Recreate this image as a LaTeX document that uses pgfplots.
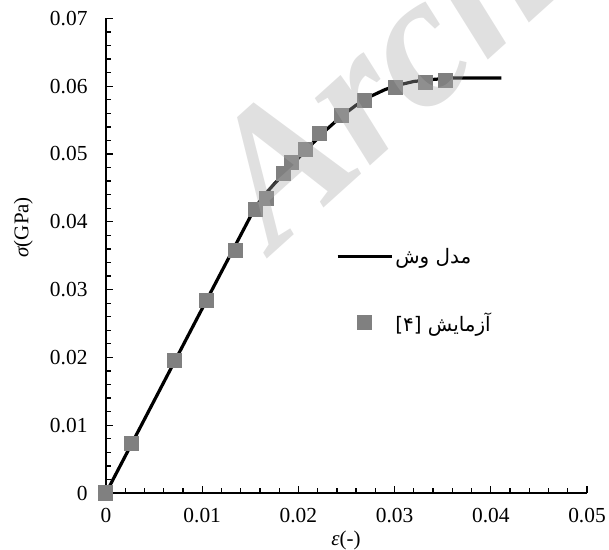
\documentclass[border=0pt]{standalone}
\usepackage{fontspec}
\setmainfont{Liberation Serif}
\newfontfamily\arabicfont[Script=Arabic]{DejaVu Sans}
\TeXXeTstate=1
\usepackage{pgfplots}
\usepackage{pgfplotstable}
\pgfplotsset{compat=1.18}

\definecolor{markgray}{HTML}{808080}

\pgfplotsset{
  line legend wide/.style={legend image code/.code={%
    \draw[black, line width=3.2bp] (0bp,0bp) -- (54bp,0bp);}},
  mark legend centred/.style={legend image code/.code={%
    \draw[mark repeat=1, mark phase=1, ##1] plot coordinates {(27bp,0bp)};}},
}

% Wash model curve
\pgfplotstableread{
x       y
0       0
0.0050  0.0136
0.0100  0.0272
0.0155  0.0421
0.0165  0.0440
0.0175  0.0456
0.0185  0.0471
0.0200  0.0494
0.0215  0.0516
0.0230  0.0537
0.0245  0.0556
0.0260  0.0572
0.0275  0.0585
0.0290  0.0595
0.0305  0.0602
0.0320  0.0607
0.0340  0.0610
0.0360  0.0612
0.0385  0.0612
0.0411  0.0612
}\modeldata

% Experimental points [4]
\pgfplotstableread{
x        y
0        0
0.00267  0.00737
0.00707  0.01951
0.01040  0.02832
0.01341  0.03584
0.01549  0.04184
0.01670  0.04346
0.01843  0.04705
0.01930  0.04877
0.02069  0.05069
0.02218  0.05305
0.02443  0.05575
0.02685  0.05796
0.03011  0.05978
0.03316  0.06052
0.03531  0.06081
}\testdata

\begin{document}
\begin{tikzpicture}
\begin{axis}[
  at={(0,0)}, anchor=south west,
  scale only axis, width=481bp, height=474.6bp,
  xmin=0, xmax=0.05, ymin=0, ymax=0.07,
  scaled ticks=false,
  axis x line=bottom, axis y line=left,
  axis line style={line width=1.6bp, -},
  xtick={0,0.01,0.02,0.03,0.04,0.05},
  xticklabels={0,0.01,0.02,0.03,0.04,0.05},
  ytick={0,0.01,0.02,0.03,0.04,0.05,0.06,0.07},
  yticklabels={0,0.01,0.02,0.03,0.04,0.05,0.06,0.07},
  minor x tick num=4, minor y tick num=4,
  tick align=inside,
  major tick length=7bp, minor tick length=5bp,
  every tick/.style={line width=1.3bp, black},
  tick label style={font=\fontsize{21.5}{21.5}\selectfont},
  xticklabel style={yshift=-12bp},
  yticklabel style={xshift=-15bp},
  label style={font=\fontsize{21}{21}\selectfont},
  xlabel={{\itshape ε}(-)},
  ylabel={{\itshape σ}(GPa)},
  xlabel style={at={(axis description cs:0.499,-0.099)}, anchor=center},
  ylabel style={at={(axis description cs:-0.172,0.56)}, anchor=center},
  clip=false,
  legend style={at={(axis description cs:0.478,0.521)}, anchor=north west,
    draw=none, fill=none, inner sep=0pt, row sep=44bp,
    font=\arabicfont\fontsize{20}{20}\selectfont},
  legend cell align=left,
]
\addplot[black, line width=3.2bp, line join=round, line legend wide]
  table[x=x, y=y] {\modeldata};
\addlegendentry{\beginR مدل وش\endR}
\addplot[markgray, only marks, mark=square*, mark size=7bp,
  mark options={fill=markgray, draw=markgray, line width=0pt}, mark legend centred]
  table[x=x, y=y] {\testdata};
\addlegendentry{\beginR آزمایش \beginL[۴]\endL\endR}
\end{axis}
% faint diagonal watermark
\node[rotate=42, anchor=base west, inner sep=0pt, text=black!33, text opacity=0.37,
  font=\bfseries\itshape\fontsize{190}{190}\selectfont] at (168bp,240bp) {Archive};
\pgfresetboundingbox
\path[use as bounding box] (-106bp,-57bp) rectangle (503bp,493bp);
\end{tikzpicture}
\end{document}
